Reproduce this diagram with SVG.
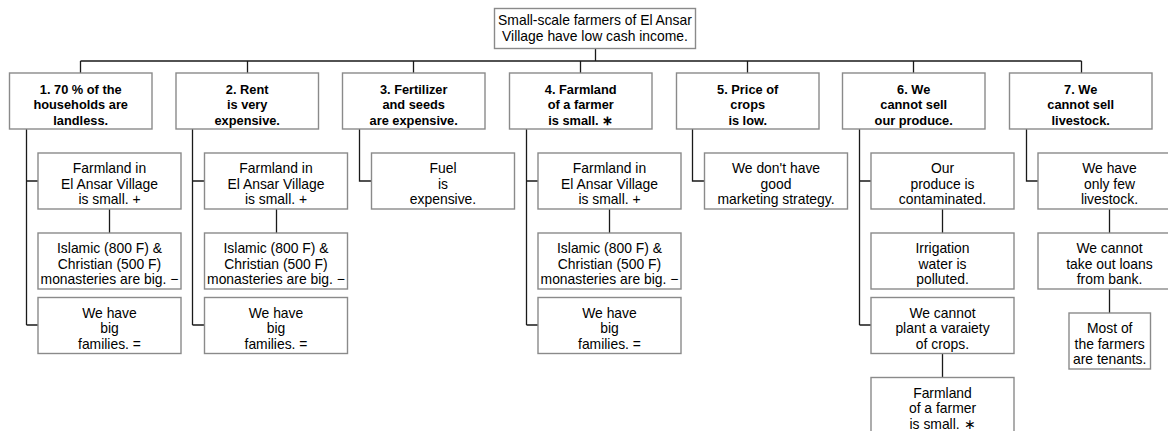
<svg xmlns="http://www.w3.org/2000/svg" width="1168" height="431" viewBox="0 0 1168 431">
  <style>
    .box { fill: #ffffff; stroke: #8a8a8a; stroke-width: 1.4; }
    .wire { fill: none; stroke: #1a1a1a; stroke-width: 1.3; }
    text { font-family: "Liberation Sans", Arial, sans-serif; fill: #000; text-anchor: middle; }
    .t { font-size: 13.9px; }
    .h { font-size: 12.8px; font-weight: bold; }
  </style>

  <!-- connectors -->
  <g id="connectors" class="wire">
    <!-- root to causes -->
    <path d="M595.5 48 V61 M80.5 61 H1081.5"/>
    <path d="M80.5 61 V73 M247.5 61 V73 M413.5 61 V73 M580.5 61 V73 M747.5 61 V73 M913.5 61 V73 M1081.5 61 V73"/>
    <!-- cause 1 -->
    <path d="M26.5 129 V325 M26.5 181 H38 M26.5 325 H38 M109.5 209 V233"/>
    <!-- cause 2 -->
    <path d="M192.5 129 V325 M192.5 181 H204.5 M192.5 325 H204.5 M276.5 209 V233"/>
    <!-- cause 3 -->
    <path d="M359.5 129 V181 H371"/>
    <!-- cause 4 -->
    <path d="M526.5 129 V325 M526.5 181 H538 M526.5 325 H538 M609.5 209 V233"/>
    <!-- cause 5 -->
    <path d="M692.5 129 V181 H704.5"/>
    <!-- cause 6 -->
    <path d="M859.5 129 V325 M859.5 181 H871 M859.5 325 H871 M942.5 209 V233 M942.5 353 V377"/>
    <!-- cause 7 -->
    <path d="M1026.5 129 V181 H1038 M1109.5 209 V233 M1109.5 289 V313"/>
  </g>

  <!-- root -->
  <g id="root">
    <rect class="box" x="494.5" y="8.5" width="201" height="40"/>
    <text class="t"><tspan x="595" y="25">Small-scale farmers of El Ansar</tspan><tspan x="595" y="40.5">Village have low cash income.</tspan></text>
  </g>

  <!-- level 1 causes -->
  <g id="cause1">
    <rect class="box" x="9.5" y="73" width="142.5" height="56"/>
    <text class="h"><tspan x="80.7" y="93.5">1. 70 % of the</tspan><tspan x="80.7" y="109">households are</tspan><tspan x="80.7" y="124.5">landless.</tspan></text>
  </g>
  <g id="cause2">
    <rect class="box" x="176" y="73" width="142.5" height="56"/>
    <text class="h"><tspan x="247.2" y="93.5">2. Rent</tspan><tspan x="247.2" y="109">is very</tspan><tspan x="247.2" y="124.5">expensive.</tspan></text>
  </g>
  <g id="cause3">
    <rect class="box" x="342.5" y="73" width="142.5" height="56"/>
    <text class="h"><tspan x="413.7" y="93.5">3. Fertilizer</tspan><tspan x="413.7" y="109">and seeds</tspan><tspan x="413.7" y="124.5">are expensive.</tspan></text>
  </g>
  <g id="cause4">
    <rect class="box" x="509.5" y="73" width="142.5" height="56"/>
    <text class="h"><tspan x="580.7" y="93.5">4. Farmland</tspan><tspan x="580.7" y="109">of a farmer</tspan><tspan x="580.7" y="124.5">is small. ∗</tspan></text>
  </g>
  <g id="cause5">
    <rect class="box" x="676.5" y="73" width="142.5" height="56"/>
    <text class="h"><tspan x="747.7" y="93.5">5. Price of</tspan><tspan x="747.7" y="109">crops</tspan><tspan x="747.7" y="124.5">is low.</tspan></text>
  </g>
  <g id="cause6">
    <rect class="box" x="842.5" y="73" width="142.5" height="56"/>
    <text class="h"><tspan x="913.7" y="93.5">6. We</tspan><tspan x="913.7" y="109">cannot sell</tspan><tspan x="913.7" y="124.5">our produce.</tspan></text>
  </g>
  <g id="cause7">
    <rect class="box" x="1009.5" y="73" width="142.5" height="56"/>
    <text class="h"><tspan x="1080.7" y="93.5">7. We</tspan><tspan x="1080.7" y="109">cannot sell</tspan><tspan x="1080.7" y="124.5">livestock.</tspan></text>
  </g>

  <!-- cause 1 sub-causes -->
  <g id="c1-land">
    <rect class="box" x="38" y="153" width="143" height="56"/>
    <text class="t"><tspan x="109.5" y="173">Farmland in</tspan><tspan x="109.5" y="188.8">El Ansar Village</tspan><tspan x="109.5" y="204.3">is small. +</tspan></text>
  </g>
  <g id="c1-monastery">
    <rect class="box" x="38" y="233" width="143" height="56"/>
    <text class="t"><tspan x="109.5" y="253">Islamic (800 F) &amp;</tspan><tspan x="109.5" y="268.8">Christian (500 F)</tspan><tspan x="109.5" y="284.3">monasteries are big. −</tspan></text>
  </g>
  <g id="c1-family">
    <rect class="box" x="38" y="297.5" width="143" height="56"/>
    <text class="t"><tspan x="109.5" y="317.5">We have</tspan><tspan x="109.5" y="333.3">big</tspan><tspan x="109.5" y="348.8">families. =</tspan></text>
  </g>

  <!-- cause 2 sub-causes -->
  <g id="c2-land">
    <rect class="box" x="204.5" y="153" width="143" height="56"/>
    <text class="t"><tspan x="276" y="173">Farmland in</tspan><tspan x="276" y="188.8">El Ansar Village</tspan><tspan x="276" y="204.3">is small. +</tspan></text>
  </g>
  <g id="c2-monastery">
    <rect class="box" x="204.5" y="233" width="143" height="56"/>
    <text class="t"><tspan x="276" y="253">Islamic (800 F) &amp;</tspan><tspan x="276" y="268.8">Christian (500 F)</tspan><tspan x="276" y="284.3">monasteries are big. −</tspan></text>
  </g>
  <g id="c2-family">
    <rect class="box" x="204.5" y="297.5" width="143" height="56"/>
    <text class="t"><tspan x="276" y="317.5">We have</tspan><tspan x="276" y="333.3">big</tspan><tspan x="276" y="348.8">families. =</tspan></text>
  </g>

  <!-- cause 3 sub-cause -->
  <g id="c3-fuel">
    <rect class="box" x="371.5" y="153" width="143" height="56"/>
    <text class="t"><tspan x="443" y="173">Fuel</tspan><tspan x="443" y="188.8">is</tspan><tspan x="443" y="204.3">expensive.</tspan></text>
  </g>

  <!-- cause 4 sub-causes -->
  <g id="c4-land">
    <rect class="box" x="538" y="153" width="143" height="56"/>
    <text class="t"><tspan x="609.5" y="173">Farmland in</tspan><tspan x="609.5" y="188.8">El Ansar Village</tspan><tspan x="609.5" y="204.3">is small. +</tspan></text>
  </g>
  <g id="c4-monastery">
    <rect class="box" x="538" y="233" width="143" height="56"/>
    <text class="t"><tspan x="609.5" y="253">Islamic (800 F) &amp;</tspan><tspan x="609.5" y="268.8">Christian (500 F)</tspan><tspan x="609.5" y="284.3">monasteries are big. −</tspan></text>
  </g>
  <g id="c4-family">
    <rect class="box" x="538" y="297.5" width="143" height="56"/>
    <text class="t"><tspan x="609.5" y="317.5">We have</tspan><tspan x="609.5" y="333.3">big</tspan><tspan x="609.5" y="348.8">families. =</tspan></text>
  </g>

  <!-- cause 5 sub-cause -->
  <g id="c5-marketing">
    <rect class="box" x="704.5" y="153" width="143" height="56"/>
    <text class="t"><tspan x="776" y="173">We don't have</tspan><tspan x="776" y="188.8">good</tspan><tspan x="776" y="204.3">marketing strategy.</tspan></text>
  </g>

  <!-- cause 6 sub-causes -->
  <g id="c6-contaminated">
    <rect class="box" x="871" y="153" width="143" height="56"/>
    <text class="t"><tspan x="942.5" y="173">Our</tspan><tspan x="942.5" y="188.8">produce is</tspan><tspan x="942.5" y="204.3">contaminated.</tspan></text>
  </g>
  <g id="c6-irrigation">
    <rect class="box" x="871" y="233" width="143" height="56"/>
    <text class="t"><tspan x="942.5" y="253">Irrigation</tspan><tspan x="942.5" y="268.8">water is</tspan><tspan x="942.5" y="284.3">polluted.</tspan></text>
  </g>
  <g id="c6-variety">
    <rect class="box" x="871" y="297.5" width="143" height="56"/>
    <text class="t"><tspan x="942.5" y="317.5">We cannot</tspan><tspan x="942.5" y="333.3">plant a varaiety</tspan><tspan x="942.5" y="348.8">of crops.</tspan></text>
  </g>
  <g id="c6-farmland">
    <rect class="box" x="871" y="377.5" width="143" height="56"/>
    <text class="t"><tspan x="942.5" y="397.5">Farmland</tspan><tspan x="942.5" y="413.3">of a farmer</tspan><tspan x="942.5" y="428.8">is small. ∗</tspan></text>
  </g>

  <!-- cause 7 sub-causes -->
  <g id="c7-livestock">
    <rect class="box" x="1038" y="153" width="143" height="56"/>
    <text class="t"><tspan x="1109.5" y="173">We have</tspan><tspan x="1109.5" y="188.8">only few</tspan><tspan x="1109.5" y="204.3">livestock.</tspan></text>
  </g>
  <g id="c7-loans">
    <rect class="box" x="1038" y="233" width="143" height="56"/>
    <text class="t"><tspan x="1109.5" y="253">We cannot</tspan><tspan x="1109.5" y="268.8">take out loans</tspan><tspan x="1109.5" y="284.3">from bank.</tspan></text>
  </g>
  <g id="c7-tenants">
    <rect class="box" x="1069" y="313" width="81.5" height="56"/>
    <text class="t"><tspan x="1109.7" y="333">Most of</tspan><tspan x="1109.7" y="348.8">the farmers</tspan><tspan x="1109.7" y="364.3">are tenants.</tspan></text>
  </g>
</svg>
